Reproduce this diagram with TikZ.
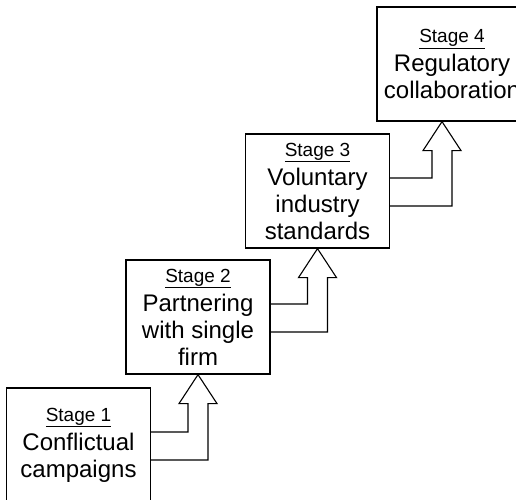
\documentclass[tikz,border=0pt]{standalone}
\usepackage{fontspec}
\setmainfont{Liberation Sans}
\usetikzlibrary{calc}
\tikzset{
  stagebox/.style={draw, line width=1.2pt, minimum width=144pt, minimum height=114pt,
    inner sep=0pt, align=center, font=\fontsize{24}{27}\selectfont},
  uparrow/.style={draw, line width=1.1pt, line join=miter},
}
% underlined stage heading, set a little smaller than the box text
\newcommand{\stagelabel}[1]{{\fontsize{19}{22}\selectfont\underline{#1}}\\[2pt]}
% hollow block arrow rising from the right side of box #1 into the bottom of box #2
\newcommand{\riser}[3]{%
  \draw[uparrow] ([yshift=13pt]#1.east)
    -| ([xshift=#3-10pt,yshift=-29pt]#2.south)
    -- ([xshift=#3-19pt,yshift=-29pt]#2.south)
    -- ([xshift=#3]#2.south)
    -- ([xshift=#3+19pt,yshift=-29pt]#2.south)
    -- ([xshift=#3+10pt,yshift=-29pt]#2.south)
    |- ([yshift=-15pt]#1.east);}
\begin{document}
\begin{tikzpicture}[x=1pt,y=-1pt]
  \useasboundingbox (0,0) rectangle (516,499);
  \node[stagebox] (b1) at (78.5,445) {\stagelabel{Stage 1}Conflictual\\campaigns};
  \node[stagebox] (b2) at (198,317) {\stagelabel{Stage 2}Partnering\\with single\\firm};
  \node[stagebox] (b3) at (317.5,191) {\stagelabel{Stage 3}Voluntary\\industry\\standards};
  \node[stagebox, minimum width=150pt] (b4) at (452,64) {\stagelabel{Stage 4}Regulatory\\collaboration};
  \riser{b1}{b2}{0pt}
  \riser{b2}{b3}{0pt}
  \riser{b3}{b4}{-10pt}
\end{tikzpicture}
\end{document}
